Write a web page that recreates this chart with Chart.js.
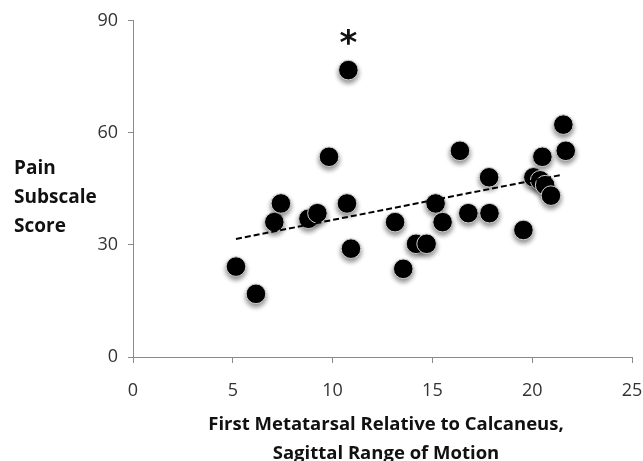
<!DOCTYPE html>
<html>
<head>
<meta charset="utf-8">
<script src="https://cdn.jsdelivr.net/npm/chart.js@4/dist/chart.umd.min.js"></script>
<style>
  html, body { margin: 0; padding: 0; background: #fff; }
  #wrap { width: 643px; height: 461px; position: relative; }
</style>
</head>
<body>
<div id="wrap"><canvas id="painChart"></canvas></div>
<script>
// ── Data ──
const romValues = [5.16, 6.16, 7.08, 7.41, 8.79, 9.24, 9.82, 10.79, 10.72, 10.92,
                   13.13, 13.54, 14.18, 14.71, 15.16, 15.51, 16.38, 16.80, 17.84, 17.86,
                   19.56, 20.06, 20.51, 20.40, 20.65, 20.94, 21.56, 21.68];
const painScores = [24.2, 16.9, 36.1, 41.1, 37.0, 38.5, 53.6, 76.8, 41.1, 29.0,
                    36.1, 23.6, 30.3, 30.3, 41.1, 36.1, 55.2, 38.5, 48.1, 38.5,
                    34.0, 48.1, 53.6, 47.3, 46.0, 43.2, 62.2, 55.2];
const trendX = [5.16, 21.51];
const trendY = [31.6, 48.8];
const xTicks = [0, 5, 10, 15, 20, 25];
const yTicks = [0, 30, 60, 90];
const yTitleLines = ["Pain", "Subscale", "Score"];
const xTitleLines = ["First Metatarsal Relative to Calcaneus,", "Sagittal Range of Motion"];
const outlierIndex = 7;

const points = romValues.map((x, i) => ({ x: x, y: painScores[i] }));
const trend = trendX.map((x, i) => ({ x: x, y: trendY[i] }));

const axisGrey = "#8a8a8a";

// x axis line, from 0 to the last tick only
const xAxisLine = {
    id: "xAxisLine",
    beforeDatasetsDraw(chart) {
        const ctx = chart.ctx;
        const xs = chart.scales.x, ys = chart.scales.y;
        const y0 = Math.round(ys.getPixelForValue(yTicks[0])) + 0.5;
        ctx.save();
        ctx.strokeStyle = axisGrey;
        ctx.lineWidth = 1;
        ctx.beginPath();
        ctx.moveTo(xs.getPixelForValue(xTicks[0]), y0);
        ctx.lineTo(xs.getPixelForValue(xTicks[xTicks.length - 1]) + 0.5, y0);
        ctx.stroke();
        ctx.restore();
    }
};

// soft drop shadow under the dots
const dotShadow = {
    id: "dotShadow",
    beforeDatasetDraw(chart, args) {
        if (args.index !== 1) return;
        const ctx = chart.ctx;
        ctx.save();
        ctx.shadowColor = "rgba(0,0,0,0.45)";
        ctx.shadowBlur = 5;
        ctx.shadowOffsetX = 0;
        ctx.shadowOffsetY = 3;
    },
    afterDatasetDraw(chart, args) {
        if (args.index !== 1) return;
        chart.ctx.restore();
    }
};

// horizontal y title, two-line x title and the asterisk
const labelsPlugin = {
    id: "labelsPlugin",
    afterDraw(chart) {
        const ctx = chart.ctx;
        const xs = chart.scales.x, ys = chart.scales.y;
        ctx.save();
        ctx.fillStyle = "#111";
        ctx.font = "bold 19px 'Open Sans'";
        ctx.textAlign = "left";
        ctx.textBaseline = "alphabetic";
        [174, 203, 232].forEach((b, i) => ctx.fillText(yTitleLines[i], 14, b));

        ctx.font = "bold 18.5px 'Open Sans'";
        ctx.textAlign = "center";
        [430, 459].forEach((b, i) => ctx.fillText(xTitleLines[i], 386, b));

        const px = xs.getPixelForValue(romValues[outlierIndex]);
        const py = ys.getPixelForValue(painScores[outlierIndex]);
        ctx.font = "bold 34px 'DejaVu Sans'";
        ctx.fillText("*", px, py - 16);
        ctx.restore();
    }
};

new Chart(document.getElementById("painChart"), {
    type: "scatter",
    data: {
        datasets: [{
            type: "line",
            data: trend,
            borderColor: "#000",
            borderWidth: 2,
            borderDash: [6, 3],
            pointRadius: 0,
            fill: false,
            order: 0
        }, {
            data: points,
            backgroundColor: "#000",
            borderColor: "#cfcfcf",
            borderWidth: 1,
            pointRadius: 9.8,
            order: 1
        }]
    },
    options: {
        responsive: true,
        maintainAspectRatio: false,
        animation: false,
        layout: { padding: { left: 0, right: 0, top: 20, bottom: 0 } },
        plugins: {
            legend: { display: false },
            tooltip: { enabled: false }
        },
        scales: {
            x: {
                type: "linear",
                min: 0,
                max: 25,
                afterBuildTicks: s => { s.ticks = xTicks.map(v => ({ value: v })); },
                afterFit: s => { s.height = 104; s.paddingRight = 11; },
                grid: { drawOnChartArea: false, drawTicks: true, tickLength: 6, color: axisGrey },
                border: { display: false },
                ticks: { padding: 17, color: "#333", font: { size: 18, family: "'Open Sans'" } }
            },
            y: {
                type: "linear",
                min: 0,
                max: 90,
                afterBuildTicks: s => { s.ticks = yTicks.map(v => ({ value: v })); },
                afterFit: s => { s.width = 133; },
                grid: { drawOnChartArea: false, drawTicks: true, tickLength: 5, color: axisGrey },
                border: { color: axisGrey, width: 1 },
                ticks: { padding: 10, color: "#333", font: { size: 18, family: "'Open Sans'" } }
            }
        }
    },
    plugins: [xAxisLine, dotShadow, labelsPlugin]
});
</script>
</body>
</html>
